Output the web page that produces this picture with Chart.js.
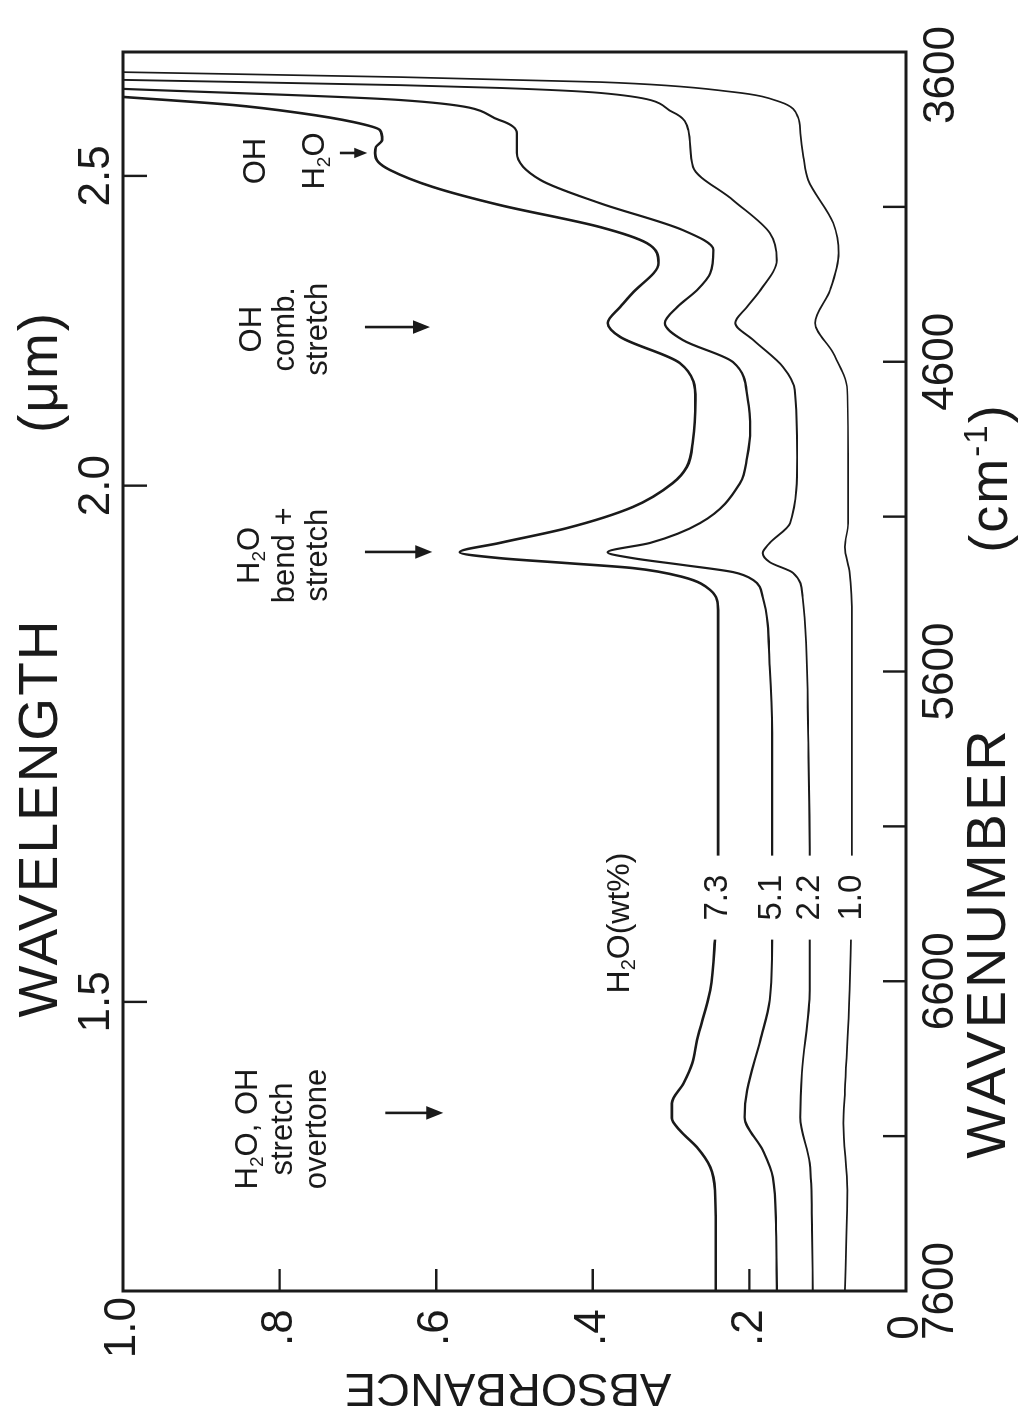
<!DOCTYPE html>
<html>
<head>
<meta charset="utf-8">
<title>Absorbance</title>
<script src="https://cdn.jsdelivr.net/npm/chart.js@4.4.1/dist/chart.umd.min.js"></script>
<style>
    html, body { margin: 0; padding: 0; background: #fff; }
    body { width: 1018px; height: 1413px; overflow: hidden; position: relative; }
    /* la figura original esta girada 90 grados */
    #giro { position: absolute; left: 0; top: 0; width: 1413px; height: 1018px;
            transform-origin: 0 0; transform: translate(0px, 1413px) rotate(-90deg); }
</style>
</head>
<body>
<div id="giro"><canvas id="espectros" width="1413" height="1018"></canvas></div>
<script>
// DATOS
const wavenumberLabels = [3600, 4600, 5600, 6600, 7600];
const wavelengthLabels = [1.5, 2.0, 2.5];
const absorbanceLabels = ['0', '.2', '.4', '.6', '.8', '1.0'];
const contenidos = ['7.3', '5.1', '2.2', '1.0'];

// 7.3 wt% H2O
const nu73 = [3745, 3771, 3797, 3826, 3852, 3884, 3907, 3926, 3955, 3981, 4036, 4094, 4165, 4217, 4281, 4380, 4423, 4475, 4520, 4604, 4724, 4853, 4940, 4992, 5069, 5137, 5185, 5215, 5234, 5250, 5266, 5295, 5337, 5402, 5600, 5900, 6200, 6467, 6629, 6790, 6865, 6929, 6994, 7042, 7081, 7136, 7200, 7275, 7400, 7600];
const abs73 = [1.000, 0.860, 0.774, 0.706, 0.672, 0.669, 0.677, 0.678, 0.674, 0.659, 0.604, 0.519, 0.391, 0.331, 0.316, 0.350, 0.365, 0.381, 0.365, 0.289, 0.269, 0.272, 0.280, 0.298, 0.349, 0.433, 0.519, 0.570, 0.519, 0.433, 0.349, 0.285, 0.250, 0.240, 0.240, 0.240, 0.240, 0.244, 0.250, 0.267, 0.273, 0.284, 0.299, 0.299, 0.289, 0.267, 0.250, 0.244, 0.243, 0.243];

// 5.1 wt%
const nu51 = [3719, 3755, 3820, 3862, 3926, 4013, 4088, 4175, 4239, 4314, 4369, 4423, 4475, 4530, 4601, 4724, 4821, 4908, 4992, 5121, 5185, 5215, 5234, 5256, 5279, 5305, 5360, 5586, 5799, 6200, 6467, 6661, 6790, 6952, 7039, 7145, 7233, 7400, 7600];
const abs51 = [1.000, 0.646, 0.519, 0.497, 0.497, 0.467, 0.391, 0.285, 0.246, 0.250, 0.267, 0.292, 0.308, 0.285, 0.221, 0.202, 0.199, 0.203, 0.212, 0.263, 0.327, 0.381, 0.349, 0.285, 0.221, 0.195, 0.183, 0.174, 0.171, 0.171, 0.171, 0.174, 0.186, 0.203, 0.206, 0.183, 0.170, 0.166, 0.165];

// 2.2 wt%
const nu22 = [3690, 3707, 3716, 3732, 3794, 3852, 3971, 4078, 4184, 4272, 4369, 4423, 4475, 4530, 4617, 4691, 4908, 5121, 5185, 5218, 5247, 5282, 5360, 5799, 6200, 6629, 6897, 7039, 7187, 7400, 7600];
const abs22 = [1.000, 0.646, 0.519, 0.391, 0.298, 0.278, 0.272, 0.221, 0.174, 0.165, 0.186, 0.203, 0.218, 0.195, 0.157, 0.142, 0.139, 0.148, 0.174, 0.183, 0.174, 0.144, 0.132, 0.125, 0.123, 0.123, 0.133, 0.135, 0.123, 0.120, 0.119];

// 1.0 wt%
const nu10 = [3665, 3681, 3697, 3729, 3761, 3810, 3862, 3939, 4013, 4152, 4249, 4369, 4475, 4572, 4691, 4908, 5121, 5198, 5280, 5434, 6200, 6629, 6952, 7058, 7275, 7600];
const abs10 = [1.000, 0.646, 0.391, 0.221, 0.161, 0.138, 0.135, 0.131, 0.125, 0.093, 0.086, 0.097, 0.116, 0.093, 0.075, 0.074, 0.074, 0.078, 0.072, 0.069, 0.069, 0.072, 0.078, 0.080, 0.075, 0.078];

const series = [
    {nu: nu73, abs: abs73, ancho: 2.6},
    {nu: nu51, abs: abs51, ancho: 2.2},
    {nu: nu22, abs: abs22, ancho: 1.9},
    {nu: nu10, abs: abs10, ancho: 1.7},
];

// anotaciones (posiciones en unidades de datos)
const anotaciones = [
    {nu: 3952, lineas: [['OH', 0.829], ['H_2O', 0.754]], flecha: [3926, 0.723, 0.688]},
    {nu: 4495, lineas: [['OH', 0.835], ['comb.', 0.792], ['stretch', 0.750]], flecha: [4488, 0.691, 0.608]},
    {nu: 5225, lineas: [['H_2O', 0.837], ['bend +', 0.792], ['stretch', 0.750]], flecha: [5214, 0.691, 0.605]},
    {nu: 7077, lineas: [['H_2O, OH', 0.840], ['stretch', 0.795], ['overtone', 0.752]], flecha: [7025, 0.665, 0.591]},
];

const familia = '"Liberation Sans", Arial, sans-serif';
const tinta = '#1a1a1a';

function trozos(str) {
    const out = [];
    const re = /_(\w)|\^\{([^}]*)\}/g;
    let last = 0, m;
    while ((m = re.exec(str))) {
        if (m.index > last) out.push({t: str.slice(last, m.index)});
        out.push(m[1] ? {t: m[1], sub: true} : {t: m[2], sup: true});
        last = re.lastIndex;
    }
    if (last < str.length) out.push({t: str.slice(last)});
    return out;
}

function texto(ctx, str, x, y, size, espacio) {
    const partes = trozos(str);
    const grande = size + 'px ' + familia;
    const chica = Math.round(size * 0.62) + 'px ' + familia;
    ctx.letterSpacing = (espacio || 0) + 'px';
    let w = 0;
    partes.forEach(p => {
        ctx.font = (p.sub || p.sup) ? chica : grande;
        w += ctx.measureText(p.t).width;
    });
    let cx = x - w / 2;
    ctx.textAlign = 'left';
    ctx.textBaseline = 'middle';
    partes.forEach(p => {
        ctx.font = (p.sub || p.sup) ? chica : grande;
        const dy = p.sub ? size * 0.3 : (p.sup ? -size * 0.26 : 0);
        ctx.fillText(p.t, cx, y + dy);
        cx += ctx.measureText(p.t).width;
    });
    ctx.letterSpacing = '0px';
}

function flecha(ctx, x, y1, y2, cabeza) {
    ctx.lineWidth = 2.6;
    ctx.beginPath();
    ctx.moveTo(x, y1);
    ctx.lineTo(x, y2 - cabeza + 2);
    ctx.stroke();
    ctx.beginPath();
    ctx.moveTo(x - cabeza * 0.4, y2 - cabeza);
    ctx.lineTo(x + cabeza * 0.4, y2 - cabeza);
    ctx.lineTo(x, y2);
    ctx.closePath();
    ctx.fill();
}

const decoracion = {
    id: 'decoracion',
    afterDraw(chart) {
        const {ctx, chartArea: a, scales} = chart;
        const sx = scales.x, sy = scales.y, sw = scales.x2;
        ctx.save();
        ctx.strokeStyle = tinta;
        ctx.fillStyle = tinta;

        // marco
        ctx.lineWidth = 3;
        ctx.strokeRect(a.left, a.top, a.right - a.left, a.bottom - a.top);

        // marcas hacia dentro
        ctx.lineWidth = 2.4;
        ctx.beginPath();
        sx.ticks.forEach(t => {
            if (t.value <= sx.min || t.value >= sx.max) return;
            const p = sx.getPixelForValue(t.value);
            ctx.moveTo(p, a.bottom); ctx.lineTo(p, a.bottom - 23);
        });
        sy.ticks.forEach(t => {
            if (t.value <= sy.min || t.value >= sy.max) return;
            const p = sy.getPixelForValue(t.value);
            ctx.moveTo(a.left, p); ctx.lineTo(a.left + 22, p);
        });
        sw.ticks.forEach(t => {
            const p = sw.getPixelForValue(t.value);
            ctx.moveTo(p, a.top); ctx.lineTo(p, a.top + 24);
        });
        ctx.stroke();

        // la etiqueta 3600 va metida un poco hacia dentro, como en el original
        texto(ctx, String(sx.min), sx.getPixelForValue(sx.min) - 23, a.bottom + 36, 44);

        // etiquetas de las curvas, en un hueco blanco
        const nuEtiqueta = 6330;
        const xe = sx.getPixelForValue(nuEtiqueta);
        series.forEach((s, i) => {
            const k = s.nu.indexOf(6200);
            const ye = sy.getPixelForValue(s.abs[k]);
            ctx.fillStyle = '#fff';
            ctx.fillRect(xe - 42, ye - 12, 84, 24);
            ctx.fillStyle = tinta;
            texto(ctx, contenidos[i], xe, ye, 33);
        });
        texto(ctx, 'H_2O(wt%)', sx.getPixelForValue(6412), sy.getPixelForValue(0.365), 32);

        // anotaciones con flechas
        anotaciones.forEach(an => {
            const xc = sx.getPixelForValue(an.nu);
            an.lineas.forEach(([str, v]) => texto(ctx, str, xc, sy.getPixelForValue(v), 31));
            const [nf, v1, v2] = an.flecha;
            const y1 = sy.getPixelForValue(v1), y2 = sy.getPixelForValue(v2);
            flecha(ctx, sx.getPixelForValue(nf), y1, y2, y2 - y1 < 40 ? 13 : 17);
        });

        // titulos de ejes
        texto(ctx, 'WAVELENGTH', 595, 42, 55, 2);
        texto(ctx, '(\u03BCm)', 1041, 42, 55, 2);
        texto(ctx, 'WAVENUMBER', 470, 990, 56, 3);
        texto(ctx, '(cm^{-1})', 935, 992, 54, 2);
        ctx.save();
        ctx.translate(26, 508);
        ctx.rotate(-Math.PI / 2);
        texto(ctx, 'ABSORBANCE', 0, 0, 47, 0);
        ctx.restore();

        ctx.restore();
    }
};

document.addEventListener('DOMContentLoaded', () => {
    Chart.defaults.font.family = familia;
    Chart.defaults.color = tinta;

    const fuenteTicks = {size: 44, family: familia};

    new Chart(document.getElementById('espectros'), {
        type: 'line',
        data: {
            datasets: series.map((s, i) => ({
                label: contenidos[i],
                data: s.nu.map((n, j) => ({x: n, y: s.abs[j]})),
                borderColor: tinta,
                borderWidth: s.ancho,
                pointRadius: 0,
                fill: false,
                cubicInterpolationMode: 'monotone',
            })),
        },
        options: {
            responsive: false,
            animation: false,
            devicePixelRatio: 1,
            layout: {padding: {left: 0, right: 52, top: 0, bottom: 0}},
            plugins: {legend: {display: false}, tooltip: {enabled: false}},
            scales: {
                x: {
                    type: 'linear', position: 'bottom', min: 3600, max: 7600, reverse: true,
                    grid: {display: false, drawTicks: false}, border: {display: false},
                    ticks: {
                        stepSize: 500, autoSkip: false, maxRotation: 0, padding: 8, font: fuenteTicks,
                        // 3600 se dibuja aparte en el plugin
                        callback: v => (wavenumberLabels.includes(v) && v !== 3600) ? String(v) : '',
                    },
                    afterFit: s => { s.height = 112; },
                },
                x2: {
                    type: 'linear', position: 'top', min: 3600, max: 7600, reverse: true,
                    grid: {display: false, drawTicks: false}, border: {display: false},
                    afterBuildTicks: s => { s.ticks = wavelengthLabels.map(l => ({value: 1e4 / l})); },
                    ticks: {
                        autoSkip: false, maxRotation: 0, padding: 0, font: fuenteTicks,
                        callback: v => (1e4 / v).toFixed(1),
                    },
                    afterFit: s => { s.height = 123; },
                },
                y: {
                    type: 'linear', position: 'left', min: 0, max: 1,
                    grid: {display: false, drawTicks: false}, border: {display: false},
                    ticks: {
                        stepSize: 0.2, padding: 6, crossAlign: 'center', font: fuenteTicks,
                        callback: v => absorbanceLabels[Math.round(v / 0.2)],
                    },
                    afterFit: s => { s.width = 122; },
                },
            },
        },
        plugins: [decoracion],
    });
});
</script>
</body>
</html>
